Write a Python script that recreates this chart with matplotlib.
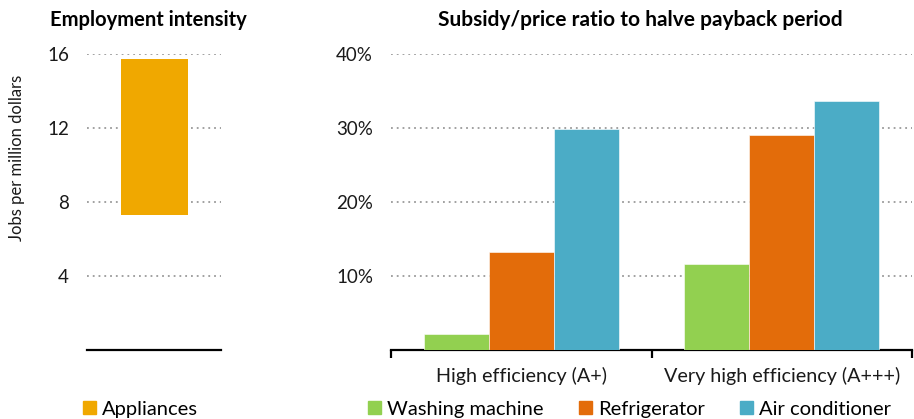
import numpy as np
import matplotlib.pyplot as plt
from matplotlib.patches import Patch

### data
app_label = 'Appliances'
app_low = 7.3
app_high = 15.75

groups = ['High efficiency (A+)', 'Very high efficiency (A+++)']
series = ['Washing machine', 'Refrigerator', 'Air conditioner']
washing = [0.022, 0.116]
fridge = [0.133, 0.290]
aircon = [0.299, 0.337]

left_ticks = [4, 8, 12, 16]
right_ticks = [0.1, 0.2, 0.3, 0.4]
right_ticklabels = ['10%', '20%', '30%', '40%']

### style
plt.rcParams['font.family'] = ['Lato', 'DejaVu Sans']
c_app = '#F0A800'
colors = ['#92D050', '#E36C0A', '#4BACC6']
grid_kw = dict(color='#9a9a9a', linestyle=(0, (1, 2.2)), linewidth=1.3)

W, H = 914, 419
fig = plt.figure(figsize=(W/100, H/100), dpi=100)

def box(x0, x1, ytop, ybot):
    return [x0/W, 1-ybot/H, (x1-x0)/W, (ybot-ytop)/H]

############################
#    Employment intensity  #
############################
ax1 = fig.add_axes(box(87, 221, 54, 350))
ax1.bar(0, app_high-app_low, bottom=app_low, width=0.5, color=c_app, zorder=3)
ax1.set_xlim(-0.5, 0.5)
ax1.set_ylim(0, 16)
ax1.set_yticks(left_ticks)
ax1.set_yticklabels([str(t) for t in left_ticks])
for t in left_ticks:
    ax1.axhline(t, zorder=1, **grid_kw)
ax1.set_xticks([])
for s in ['top', 'right', 'left']:
    ax1.spines[s].set_visible(False)
ax1.spines['bottom'].set_linewidth(1.6)
ax1.tick_params(axis='y', length=0, pad=13, labelsize=13.5, colors='#1a1a1a')
fig.text(17/W, 1-158/H, 'Jobs per million dollars', rotation=90, ha='center', va='center',
         fontsize=12, color='#1a1a1a')
fig.text(148/W, 1-20/H, 'Employment intensity', ha='center', va='center',
         fontsize=14.5, fontweight='bold')

############################
#    Subsidy/price ratio   #
############################
ax2 = fig.add_axes(box(391, 912, 54, 350))
x = np.arange(len(groups))
bw = 0.25
for i, (vals, col) in enumerate(zip([washing, fridge, aircon], colors)):
    ax2.bar(x + (i-1)*bw, vals, width=bw, color=col, zorder=3,
            edgecolor='white', linewidth=0.4, label=series[i])
ax2.set_xlim(-0.5, 1.5)
ax2.set_ylim(0, 0.4)
ax2.set_yticks(right_ticks)
ax2.set_yticklabels(right_ticklabels)
for t in right_ticks:
    ax2.axhline(t, zorder=1, **grid_kw)
for s in ['top', 'right', 'left']:
    ax2.spines[s].set_visible(False)
ax2.spines['bottom'].set_linewidth(1.6)
ax2.set_xticks(x)
ax2.set_xticklabels(groups)
ax2.set_xticks([-0.5, 0.5, 1.5], minor=True)
ax2.tick_params(axis='x', which='major', length=0, pad=12, labelsize=14.2, colors='#1a1a1a')
ax2.tick_params(axis='x', which='minor', length=6, width=1.6, direction='out')
ax2.tick_params(axis='y', length=0, pad=13, labelsize=13.5, colors='#1a1a1a')
fig.text(640/W, 1-20/H, 'Subsidy/price ratio to halve payback period', ha='center', va='center',
         fontsize=15, fontweight='bold')

### legends
leg_kw = dict(frameon=False, fontsize=14.5, handlelength=0.65, handleheight=0.65,
              handletextpad=0.3, borderaxespad=0, borderpad=0, loc='center left')
fig.legend(handles=[Patch(color=c_app, label=app_label)],
           bbox_to_anchor=(83/W, 1-409/H), **leg_kw)
for xpos, col, name in zip([368, 579, 740], colors, series):
    fig.legend(handles=[Patch(color=col, label=name)],
               bbox_to_anchor=(xpos/W, 1-409/H), **leg_kw)

plt.savefig('out.png', dpi=100)
plt.close()
